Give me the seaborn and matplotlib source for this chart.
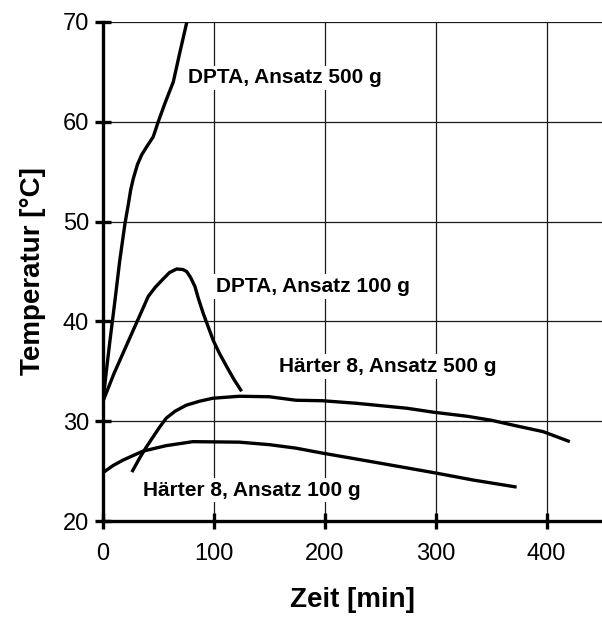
import numpy as np
import pandas as pd
import matplotlib
matplotlib.use("Agg")
import matplotlib.pyplot as plt
import seaborn as sns

# ---- data ----
dpta500_t = [0, 3, 6.3, 10.8, 15, 19.8, 22.8, 25, 27.3, 31, 34.9, 40, 45.3, 49.8, 56, 63.4, 69, 75.4, 78]
dpta500_T = [32, 35, 38.1, 42.1, 46, 49.8, 51.7, 53.2, 54.3, 55.7, 56.7, 57.6, 58.5, 60, 61.9, 64, 66.8, 69.9, 71.3]

dpta100_t = [0, 10, 20, 28.8, 40.8, 47, 52.9, 60, 66.4, 72, 75.4, 79, 82.9, 86, 90.4, 99.4, 105, 111.4, 118, 125]
dpta100_T = [32, 34.8, 37.3, 39.5, 42.5, 43.4, 44.1, 44.9, 45.25, 45.2, 45.0, 44.4, 43.5, 42.3, 40.8, 38.1, 36.8, 35.5, 34.2, 33.0]

h500_t = [26, 33, 39, 45, 51, 57, 65, 75, 87, 99, 123, 150, 174, 198, 228, 274, 298, 328, 350, 370, 397, 421]
h500_T = [24.9, 26.3, 27.4, 28.4, 29.4, 30.3, 31.0, 31.6, 32.0, 32.3, 32.5, 32.45, 32.1, 32.05, 31.8, 31.3, 30.9, 30.5, 30.1, 29.6, 28.95, 27.95]

h100_t = [0, 9, 18, 36, 57, 81, 123, 150, 174, 198, 247, 298, 334, 373]
h100_T = [24.85, 25.55, 26.1, 27.0, 27.55, 27.95, 27.9, 27.65, 27.3, 26.8, 25.85, 24.85, 24.1, 23.4]

series_names = ["DPTA, Ansatz 500 g", "DPTA, Ansatz 100 g",
                "Härter 8, Ansatz 500 g", "Härter 8, Ansatz 100 g"]
x_ticks = [0, 100, 200, 300, 400]
y_ticks = [20, 30, 40, 50, 60, 70]

frames = []
for name, t, T in zip(series_names,
                      [dpta500_t, dpta100_t, h500_t, h100_t],
                      [dpta500_T, dpta100_T, h500_T, h100_T]):
    frames.append(pd.DataFrame({"Zeit": t, "Temp": T, "Serie": name}))
df = pd.concat(frames, ignore_index=True)

sns.set_theme(style="white")
plt.rcParams["font.family"] = ["Liberation Sans", "DejaVu Sans"]
plt.rcParams["text.color"] = "black"
plt.rcParams["axes.labelcolor"] = "black"
plt.rcParams["xtick.color"] = "black"
plt.rcParams["ytick.color"] = "black"

fig = plt.figure(figsize=(6.02, 6.17), dpi=100)
ax = fig.add_axes([103 / 602, 1 - 521 / 617, 1 - 103 / 602, (521 - 22) / 617])

for name in series_names:
    sub = df[df["Serie"] == name]
    sns.lineplot(data=sub, x="Zeit", y="Temp", sort=False, estimator=None,
                 color="black", linewidth=2.4, ax=ax, legend=False, zorder=3)
for ln in ax.lines:
    ln.set_solid_joinstyle("round")
    ln.set_solid_capstyle("butt")

ax.set_xlim(0, 450)
ax.set_ylim(20, 70)
ax.set_xticks(x_ticks)
ax.set_yticks(y_ticks)
ax.grid(True, color="#1a1a1a", linewidth=0.9, zorder=0)
ax.set_axisbelow(True)

for s in ["top", "right"]:
    ax.spines[s].set_visible(False)
for s in ["left", "bottom"]:
    ax.spines[s].set_color("black")
    ax.spines[s].set_linewidth(2.4)
    ax.spines[s].set_zorder(4)

ax.tick_params(axis="both", direction="inout", length=12, width=2.4,
               color="black", labelsize=17, labelcolor="black",
               bottom=True, left=True)
ax.tick_params(axis="x", pad=10)
ax.tick_params(axis="y", pad=4)

ax.set_xlabel("Zeit [min]", fontsize=20, fontweight="bold", labelpad=16)
ax.set_ylabel("Temperatur [°C]", fontsize=20, fontweight="bold", labelpad=12)

bbox = dict(facecolor="white", edgecolor="none", pad=2)
fs = 15
ax.text(77, 64.4, series_names[0], fontsize=fs, fontweight="bold",
        ha="left", va="center", bbox=bbox, zorder=5)
ax.text(102, 43.5, series_names[1], fontsize=fs, fontweight="bold",
        ha="left", va="center", bbox=bbox, zorder=5)
ax.text(159, 35.5, series_names[2], fontsize=fs, fontweight="bold",
        ha="left", va="center", bbox=bbox, zorder=5)
ax.text(36, 23.1, series_names[3], fontsize=fs, fontweight="bold",
        ha="left", va="center", bbox=bbox, zorder=5)

fig.savefig("out.png", dpi=100, facecolor="white")
